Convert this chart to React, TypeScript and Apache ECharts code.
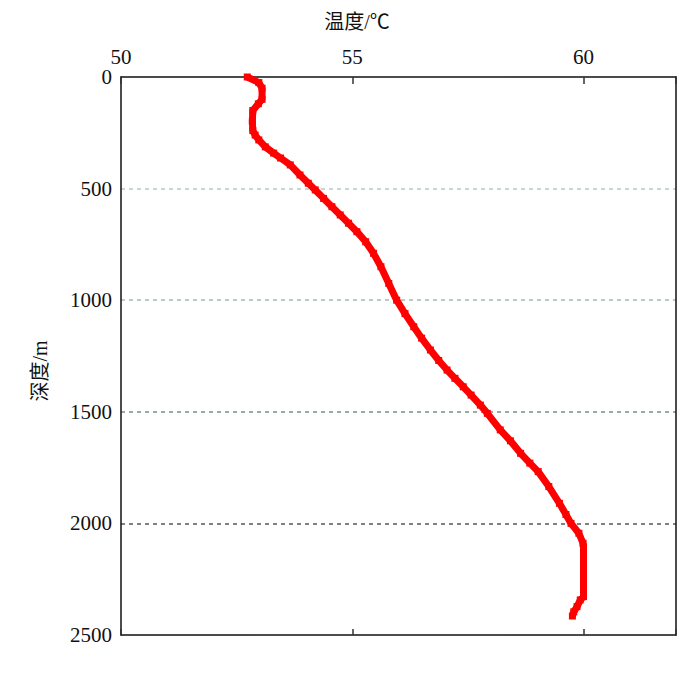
import React, { useEffect, useRef } from "react";
import * as echarts from "echarts";

const depths = [0, 25, 50, 100, 120, 150, 200, 240, 260, 282, 313, 341, 363, 394, 439, 476, 506, 544, 581, 618, 655, 693, 738, 790, 850, 925, 1000, 1060, 1119, 1170, 1223, 1270, 1313, 1350, 1388, 1425, 1470, 1507, 1581, 1630, 1686, 1730, 1768, 1835, 1910, 1960, 2000, 2044, 2089, 2110, 2200, 2328, 2343, 2373, 2396, 2415];
const temps = [52.73, 52.98, 53.05, 53.05, 52.97, 52.85, 52.84, 52.85, 52.9, 52.98, 53.12, 53.3, 53.45, 53.66, 53.87, 54.05, 54.2, 54.38, 54.56, 54.74, 54.92, 55.1, 55.29, 55.46, 55.62, 55.79, 55.96, 56.14, 56.33, 56.5, 56.69, 56.87, 57.05, 57.22, 57.4, 57.57, 57.77, 57.92, 58.2, 58.42, 58.64, 58.84, 59.02, 59.25, 59.48, 59.62, 59.73, 59.9, 59.99, 60.0, 60.0, 60.0, 59.93, 59.86, 59.79, 59.76];

const xTicks = [50, 55, 60];
const yTicks = [0, 500, 1000, 1500, 2000, 2500];

const FONT = "'Liberation Serif', 'Noto Sans CJK SC', serif";
const FRAME = { show: true, onZero: false, lineStyle: { color: "#111", width: 1.5 } };

export default function App() {
  const ref = useRef<HTMLDivElement>(null);
  useEffect(() => {
    if (!ref.current) return;
    const chart = echarts.init(ref.current, undefined, { renderer: "svg" });
    const data = depths.map((d, i) => [temps[i], d]);
    chart.setOption({
      animation: false,
      backgroundColor: "#fff",
      grid: { left: 121, top: 77, right: 24, bottom: 46, show: false },
      xAxis: [
        {
          type: "value",
          position: "top",
          min: 50,
          max: 62,
          interval: 5,
          axisLine: FRAME,
          axisTick: { show: true, inside: true, length: 7, lineStyle: { color: "#333", width: 1.5 } },
          axisLabel: {
            margin: 10,
            fontSize: 21,
            fontFamily: FONT,
            color: "#111",
            formatter: (v: number) => (xTicks.includes(v) ? String(v) : ""),
          },
          splitLine: { show: false },
        },
        {
          type: "value",
          position: "bottom",
          min: 50,
          max: 62,
          interval: 5,
          axisLine: FRAME,
          axisTick: { show: true, inside: true, length: 6, lineStyle: { color: "#333", width: 1.5 } },
          axisLabel: { show: false },
          splitLine: { show: false },
        },
      ],
      yAxis: [
        {
          type: "value",
          position: "left",
          inverse: true,
          min: 0,
          max: 2500,
          interval: 500,
          axisLine: FRAME,
          axisTick: { show: false },
          axisLabel: {
            margin: 9,
            fontSize: 21,
            fontFamily: FONT,
            color: "#111",
            formatter: (v: number) => (yTicks.includes(v) ? String(v) : ""),
          },
          splitLine: {
            show: true,
            showMinLine: false,
            showMaxLine: false,
            lineStyle: {
              color: ["#b8c9c9", "#a6b8b8", "#7d8c8c", "#555a5a"],
              type: [4, 4],
              width: 1.5,
            },
          },
        },
        {
          type: "value",
          position: "right",
          inverse: true,
          min: 0,
          max: 2500,
          interval: 500,
          axisLine: FRAME,
          axisTick: { show: false },
          axisLabel: { show: false },
          splitLine: { show: false },
        },
      ],
      graphic: [
        {
          type: "text",
          x: 357,
          y: 22,
          style: {
            text: "温度/℃",
            fontSize: 20,
            fontFamily: FONT,
            fill: "#111",
            textAlign: "center",
            textVerticalAlign: "middle",
          },
        },
        {
          type: "text",
          x: 40,
          y: 371,
          rotation: Math.PI / 2,
          style: {
            text: "深度/m",
            fontSize: 20,
            fontFamily: FONT,
            fill: "#111",
            textAlign: "center",
            textVerticalAlign: "middle",
          },
        },
      ],
      series: [
        {
          type: "line",
          xAxisIndex: 0,
          yAxisIndex: 0,
          data,
          showSymbol: true,
          symbol: "rect",
          symbolSize: 7,
          itemStyle: { color: "#ff0000" },
          lineStyle: { color: "#ff0000", width: 7 },
        },
      ],
    });
    return () => chart.dispose();
  }, []);
  return (
    <div
      ref={ref}
      style={{ position: "absolute", left: 0, top: 0, width: 700, height: 681 }}
    />
  );
}
